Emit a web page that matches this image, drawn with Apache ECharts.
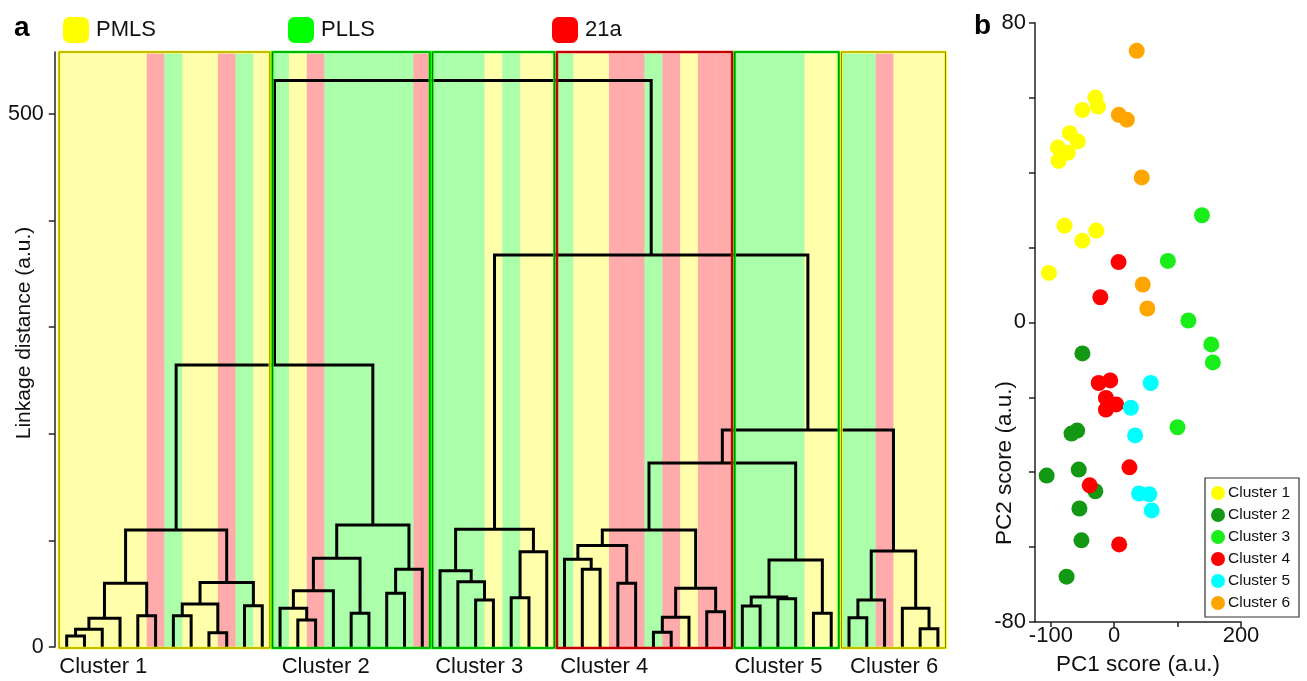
<!DOCTYPE html>
<html>
<head>
<meta charset="utf-8">
<script src="https://cdn.jsdelivr.net/npm/echarts@6/dist/echarts.min.js"></script>
<style>
html, body { margin: 0; padding: 0; background: #fff; }
#main { width: 1307px; height: 681px; }
</style>
</head>
<body>
<div id="main"></div>
<script>
var FONT = '"Liberation Sans", Arial, Helvetica, sans-serif';

// ---- panel a: dendrogram ----
var classNames = ['PMLS', 'PLLS', '21a'];
var classColors = ['#ffff00', '#00ff00', '#ff0000'];
var classDark = ['#8a7a00', '#007000', '#800000'];

// class of every leaf, left to right (0 PMLS, 1 PLLS, 2 21a)
var leafClass = [
  0,0,0,0,0,2,1,0,0,2,1,0,
  1,0,2,1,1,1,1,1,2,
  1,1,1,0,1,0,0,
  1,0,0,2,2,1,2,0,2,2,
  1,1,1,1,0,0,
  1,1,2,0,0,0
];

var clusterNames = ['Cluster 1', 'Cluster 2', 'Cluster 3', 'Cluster 4', 'Cluster 5', 'Cluster 6'];
var clusterFirst = [0, 12, 21, 28, 38, 44];
var clusterLast = [11, 20, 27, 37, 43, 49];
var clusterClass = [0, 1, 1, 2, 1, 0];

// linkage: [node a, node b, height]; leaves are 0..49, merge k makes node 50+k
var linkage = [
  [0, 1, 10.3], [50, 2, 16.6], [51, 3, 26.9], [4, 5, 29.4], [52, 53, 59.7],
  [6, 7, 29.4], [8, 9, 13.4], [55, 56, 40.3], [10, 11, 38.8], [57, 58, 60.5],
  [54, 59, 109.8],
  [13, 14, 25.3], [12, 61, 36.3], [62, 15, 52.8], [16, 17, 31.6], [63, 64, 83.2],
  [18, 19, 50.4], [66, 20, 72.9], [65, 67, 114.4],
  [60, 68, 264.5],
  [23, 24, 44.1], [22, 70, 61.3], [21, 71, 71.6], [25, 26, 46.3], [73, 27, 89.4],
  [72, 74, 110.4],
  [29, 30, 72.9], [28, 76, 82.3], [31, 32, 59.7], [77, 78, 95.1], [33, 34, 13.8],
  [80, 35, 27.8], [36, 37, 33.1], [81, 82, 55.0], [79, 83, 109.8],
  [38, 39, 38.5], [40, 41, 45.3], [85, 86, 46.9], [42, 43, 31.6], [87, 88, 81.6],
  [44, 45, 27.5], [90, 46, 44.1], [48, 49, 17.2], [47, 92, 36.3], [91, 93, 90.1],
  [84, 89, 172.6], [95, 94, 203.6], [75, 96, 367.7], [69, 97, 531.2]
];

var yTop = 558;

// ---- panel b: PCA scores (PC1, PC2) ----
var pcCluster1 = [[-29.8, 60.0], [-25.6, 57.6], [-50.2, 56.7], [-70.0, 50.5], [-57.5, 48.3], [-88.9, 46.7],
  [-73.2, 45.3], [-87.8, 43.1], [-78.4, 25.8], [-50.2, 21.8], [-28.2, 24.5], [-103.0, 13.2]];
var pcCluster2 = [[-50.2, -8.3], [-58.5, -28.9], [-67.4, -29.7], [-56.0, -39.3], [-106.6, -40.9],
  [-29.8, -45.1], [-54.9, -49.7], [-51.7, -58.2], [-75.2, -67.9]];
var pcCluster3 = [[138.4, 28.6], [84.6, 16.4], [117.0, 0.5], [153.1, -5.9], [155.6, -10.7], [99.8, -28.0]];
var pcCluster4 = [[6.8, 16.1], [-21.9, 6.7], [-24.5, -16.2], [-6.3, -15.5], [-13.1, -20.2], [3.1, -21.9],
  [-13.1, -23.3], [24.0, -38.7], [-38.7, -43.5], [7.8, -59.3]];
var pcCluster5 = [[57.5, -16.2], [26.2, -22.8], [32.9, -30.2], [39.2, -45.7], [55.3, -45.9], [59.1, -50.2]];
var pcCluster6 = [[35.5, 72.5], [7.3, 55.4], [19.9, 54.1], [43.4, 38.7], [45.0, 10.1], [52.2, 3.7]];
var pcData = [pcCluster1, pcCluster2, pcCluster3, pcCluster4, pcCluster5, pcCluster6];
var pcColors = ['#ffff00', '#139813', '#1aee1a', '#ff0000', '#00ffff', '#ffa500'];

// label shift (px) from the left edge of each cluster box
var clusterLabelDx = [1.5, 10.5, 4, 4.5, 1, 10];

// build dendrogram segments from the linkage
var nodeX = [], nodeH = [];
for (var i = 0; i < leafClass.length; i++) { nodeX.push(i); nodeH.push(0); }
var links = [];
linkage.forEach(function (m) {
  var a = m[0], b = m[1];
  links.push([nodeX[a], nodeH[a], nodeX[b], nodeH[b], m[2]]);
  nodeX.push((nodeX[a] + nodeX[b]) / 2);
  nodeH.push(m[2]);
});

var series = [];

// background stripes, one series per class
classNames.forEach(function (name, k) {
  var d = [];
  leafClass.forEach(function (c, i) { if (c === k) d.push([i]); });
  series.push({
    name: name,
    type: 'custom',
    xAxisIndex: 0, yAxisIndex: 0,
    itemStyle: { color: classColors[k] },
    z: 1,
    data: d,
    renderItem: function (params, api) {
      var i = api.value(0);
      var p0 = api.coord([i - 0.5, yTop - 1.5]);
      var p1 = api.coord([i + 0.5, 0]);
      return {
        type: 'rect',
        shape: { x: p0[0], y: p0[1], width: p1[0] - p0[0], height: p1[1] - p0[1] },
        style: { fill: classColors[k], opacity: 0.33 }
      };
    }
  });
});

// dendrogram
series.push({
  type: 'custom',
  xAxisIndex: 0, yAxisIndex: 0,
  z: 3,
  silent: true,
  data: links,
  renderItem: function (params, api) {
    var a = api.coord([api.value(0), api.value(1)]);
    var b = api.coord([api.value(0), api.value(4)]);
    var c = api.coord([api.value(2), api.value(4)]);
    var d = api.coord([api.value(2), api.value(3)]);
    return {
      type: 'polyline',
      shape: { points: [a, b, c, d] },
      style: { stroke: '#000', lineWidth: 3, fill: null, lineJoin: 'miter' }
    };
  }
});

// cluster boxes + labels
var boxes = clusterNames.map(function (n, k) { return [clusterFirst[k], clusterLast[k], clusterClass[k], k]; });
series.push({
  type: 'custom',
  xAxisIndex: 0, yAxisIndex: 0,
  z: 4,
  silent: true,
  data: boxes,
  renderItem: function (params, api) {
    var k = api.value(3), c = api.value(2);
    var p0 = api.coord([api.value(0) - 0.5, yTop]);
    var p1 = api.coord([api.value(1) + 0.5, 0]);
    var x = p0[0] + 1.3, y = p0[1], w = p1[0] - p0[0] - 2.6, h = p1[1] - p0[1] + 1;
    return {
      type: 'group',
      children: [
        { type: 'rect', shape: { x: x, y: y, width: w, height: h },
          style: { fill: null, stroke: classColors[c], lineWidth: 2.6 } },
        { type: 'rect', shape: { x: x, y: y, width: w, height: h },
          style: { fill: null, stroke: classDark[c], lineWidth: 1 } },
        { type: 'text', x: p0[0] + clusterLabelDx[k], y: p1[1] + 20,
          style: { text: clusterNames[k], fontSize: 22, fontFamily: FONT, fill: '#111',
                   align: 'left', verticalAlign: 'middle' } }
      ]
    };
  }
});

// scatter
clusterNames.forEach(function (name, k) {
  series.push({
    name: name,
    type: 'scatter',
    xAxisIndex: 1, yAxisIndex: 1,
    symbolSize: 16,
    itemStyle: { color: pcColors[k], opacity: 1 },
    data: pcData[k]
  });
});

var axisCol = '#222';
var option = {
  animation: false,
  backgroundColor: '#fff',
  textStyle: { fontFamily: FONT },
  grid: [
    { left: 57.8, top: 52, width: 889, height: 595 },
    { left: 1035, top: 22.7, width: 206, height: 600.3 }
  ],
  xAxis: [
    { gridIndex: 0, type: 'value', min: -0.5, max: 49.5, show: false },
    {
      gridIndex: 1, type: 'value', min: -125, max: 200,
      axisLine: { show: true, onZero: false, lineStyle: { color: axisCol, width: 1.5 } },
      axisTick: { show: true, length: 5, customValues: [-100, 0, 100, 200], lineStyle: { color: axisCol, width: 1.5 } },
      axisLabel: { customValues: [-100, 0, 200], fontSize: 22, color: '#111', margin: 3, fontFamily: FONT },
      splitLine: { show: false },
      name: 'PC1 score (a.u.)', nameLocation: 'middle', nameGap: 31,
      nameTextStyle: { fontSize: 22.5, color: '#111', fontFamily: FONT }
    }
  ],
  yAxis: [
    {
      gridIndex: 0, type: 'value', min: 0, max: yTop, offset: 3,
      axisLine: { show: true, onZero: false, lineStyle: { color: axisCol, width: 1.5 } },
      axisTick: { show: true, length: 6, customValues: [0, 100, 200, 300, 400, 500], lineStyle: { color: axisCol, width: 1.5 } },
      axisLabel: {
        customValues: [0, 500], fontSize: 21.5, color: '#111', margin: 11, fontFamily: FONT,
        formatter: function (v) { return (v === 0 || v === 500) ? String(v) : ''; }
      },
      splitLine: { show: false }
    },
    {
      gridIndex: 1, type: 'value', min: -80, max: 80, interval: 20,
      axisLine: { show: true, onZero: false, lineStyle: { color: axisCol, width: 1.5 } },
      axisTick: { show: true, length: 6, lineStyle: { color: axisCol, width: 1.5 } },
      axisLabel: {
        fontSize: 22, color: '#111', margin: 9, fontFamily: FONT,
        formatter: function (v) { return (v === 80 || v === 0 || v === -80) ? String(v) : ''; }
      },
      splitLine: { show: false }
    }
  ],
  legend: [
    {
      data: [{ name: 'PMLS' }], left: 63, top: 17, padding: 0, icon: 'roundRect',
      itemWidth: 26, itemHeight: 26, selectedMode: false,
      textStyle: { fontSize: 22, color: '#111', fontFamily: FONT, padding: [0, 0, 0, 2] }
    },
    {
      data: [{ name: 'PLLS' }], left: 288, top: 17, padding: 0, icon: 'roundRect',
      itemWidth: 26, itemHeight: 26, selectedMode: false,
      textStyle: { fontSize: 22, color: '#111', fontFamily: FONT, padding: [0, 0, 0, 2] }
    },
    {
      data: [{ name: '21a' }], left: 552, top: 17, padding: 0, icon: 'roundRect',
      itemWidth: 26, itemHeight: 26, selectedMode: false,
      textStyle: { fontSize: 22, color: '#111', fontFamily: FONT, padding: [0, 0, 0, 2] }
    },
    {
      data: clusterNames, orient: 'vertical', left: 1205, top: 478,
      icon: 'circle', itemWidth: 14, itemHeight: 14, itemGap: 6,
      borderColor: '#333', borderWidth: 1.2, padding: [7, 9, 6, 6], selectedMode: false,
      textStyle: { fontSize: 15.5, color: '#111', fontFamily: FONT, padding: [0, 0, 0, -2] }
    }
  ],
  graphic: [
    { type: 'text', x: 14, y: 28, style: { text: 'a', fontSize: 28, fontWeight: 'bold', fontFamily: FONT, fill: '#000', align: 'left', verticalAlign: 'middle' } },
    { type: 'text', x: 974, y: 26, style: { text: 'b', fontSize: 28, fontWeight: 'bold', fontFamily: FONT, fill: '#000', align: 'left', verticalAlign: 'middle' } },
    { type: 'text', x: 24, y: 333, rotation: Math.PI / 2, style: { text: 'Linkage distance (a.u.)', fontSize: 21, fontFamily: FONT, fill: '#111', align: 'center', verticalAlign: 'middle' } },
    { type: 'text', x: 1005, y: 463, rotation: Math.PI / 2, style: { text: 'PC2 score (a.u.)', fontSize: 22.5, fontFamily: FONT, fill: '#111', align: 'center', verticalAlign: 'middle' } }
  ],
  series: series
};

var chart = echarts.init(document.getElementById('main'));
chart.setOption(option);
</script>
</body>
</html>
